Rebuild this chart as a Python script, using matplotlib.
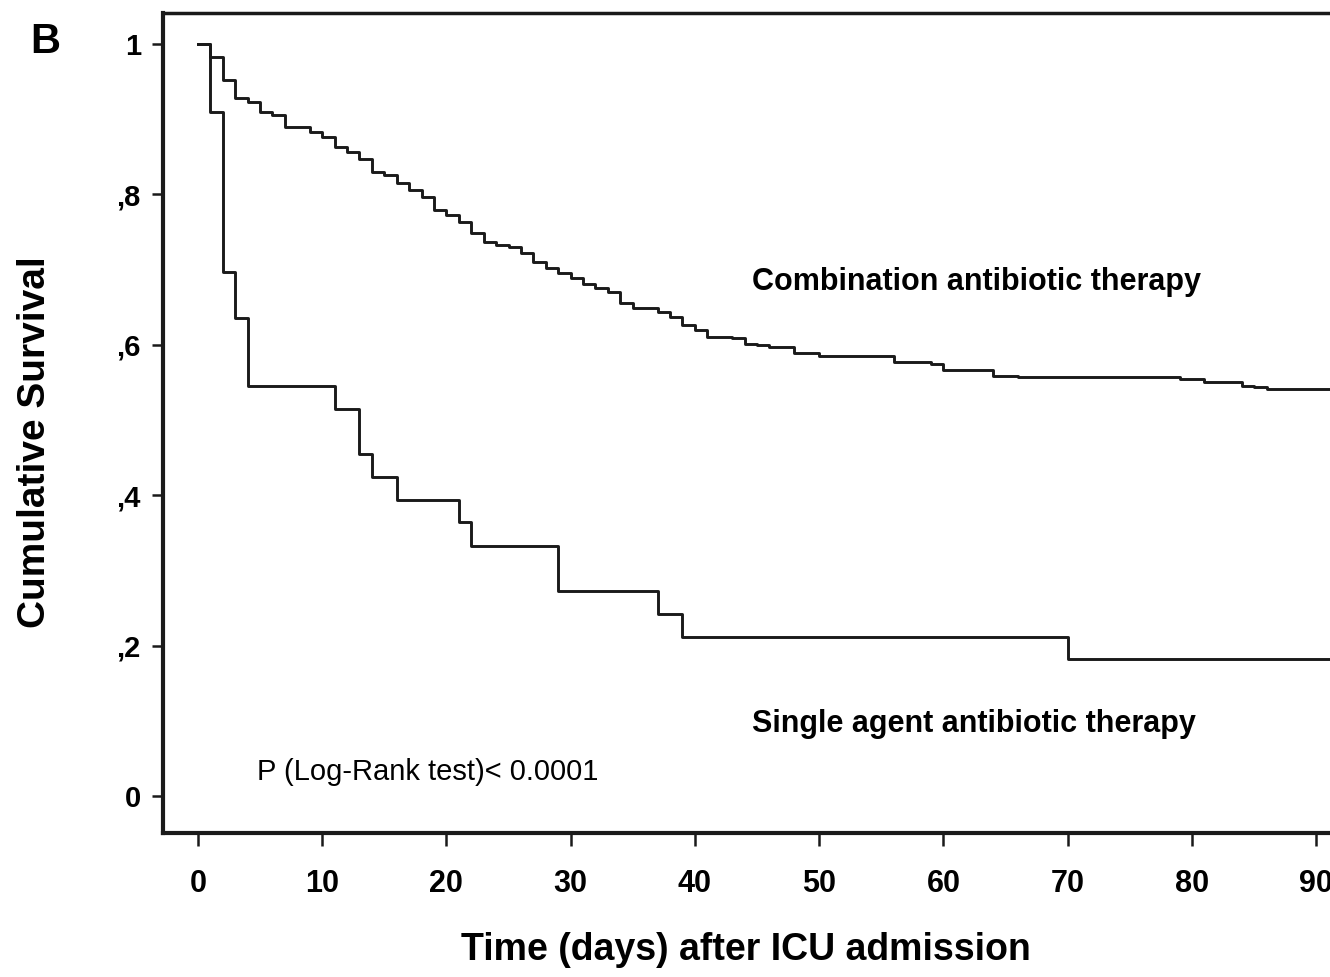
import matplotlib
matplotlib.use("Agg")
import matplotlib.pyplot as plt
from matplotlib.ticker import FixedLocator, FixedFormatter

# ---- data ----
comb_time = [0, 1, 2, 3, 4, 5, 6, 7, 9, 10, 11, 12, 13, 14, 15, 16, 17, 18, 19, 20,
             21, 22, 23, 24, 25, 26, 27, 28, 29, 30, 31, 32, 33, 34, 35, 37, 38, 39,
             40, 41, 43, 44, 45, 46, 48, 50, 56, 59, 60, 64, 66, 79, 81, 84, 85, 86, 92]
comb_surv = [1.0, 0.983, 0.952, 0.928, 0.923, 0.910, 0.906, 0.890, 0.883, 0.876,
             0.863, 0.856, 0.847, 0.830, 0.826, 0.815, 0.806, 0.797, 0.779, 0.773,
             0.763, 0.749, 0.737, 0.733, 0.730, 0.722, 0.710, 0.702, 0.695, 0.689,
             0.681, 0.676, 0.670, 0.656, 0.649, 0.644, 0.637, 0.626, 0.620, 0.610,
             0.609, 0.601, 0.600, 0.597, 0.589, 0.585, 0.577, 0.575, 0.566, 0.558,
             0.557, 0.554, 0.550, 0.545, 0.544, 0.541, 0.541]

single_time = [0, 1, 2, 3, 4, 11, 13, 14, 16, 21, 22, 29, 37, 39, 70, 92]
single_surv = [1.0, 0.909, 0.697, 0.636, 0.545, 0.515, 0.455, 0.424, 0.394, 0.364,
               0.333, 0.273, 0.242, 0.212, 0.182, 0.182]

x_ticks = [0, 10, 20, 30, 40, 50, 60, 70, 80, 90]
x_tick_labels = ["0", "10", "20", "30", "40", "50", "60", "70", "80", "90"]
y_ticks = [0, 0.2, 0.4, 0.6, 0.8, 1.0]
y_tick_labels = ["0", ",2", ",4", ",6", ",8", "1"]

FONT = "Liberation Sans"
W, H = 1330, 977
fig = plt.figure(figsize=(W / 100, H / 100), dpi=100)
ax = fig.add_axes([163 / W, (H - 833) / H, 1 - 163 / W, (833 - 13) / H])

ax.step(comb_time, comb_surv, where="post", color="#1a1a1a", lw=2.1)
ax.step(single_time, single_surv, where="post", color="#1a1a1a", lw=2.1)

ax.set_xlim(-2.8, 91.1)
ax.set_ylim(-0.049, 1.041)

ax.xaxis.set_major_locator(FixedLocator(x_ticks))
ax.xaxis.set_major_formatter(FixedFormatter(x_tick_labels))
ax.yaxis.set_major_locator(FixedLocator(y_ticks))
ax.yaxis.set_major_formatter(FixedFormatter(y_tick_labels))

ax.tick_params(axis="x", direction="out", length=9, width=1.8, pad=17,
               labelsize=22, color="#1a1a1a")
ax.tick_params(axis="y", direction="out", length=8, width=1.8, pad=8,
               labelsize=21, color="#1a1a1a")
for lab in ax.get_xticklabels() + ax.get_yticklabels():
    lab.set_fontfamily(FONT)
    lab.set_fontweight("bold")

ax.spines["right"].set_visible(False)
ax.spines["left"].set_linewidth(3.0)
ax.spines["bottom"].set_linewidth(3.0)
ax.spines["top"].set_linewidth(2.5)
for s in ax.spines.values():
    s.set_color("#1a1a1a")

ax.text(44.6, 0.684, "Combination antibiotic therapy", fontsize=22,
        fontweight="bold", family=FONT, va="center", ha="left")
ax.text(44.6, 0.096, "Single agent antibiotic therapy", fontsize=22,
        fontweight="bold", family=FONT, va="center", ha="left")
ax.text(4.8, 0.032, "P (Log-Rank test)< 0.0001", fontsize=21,
        family=FONT, va="center", ha="left")

fig.text(45 / W, 1 - 42 / H, "B", fontsize=30, fontweight="bold", family=FONT,
         ha="center", va="center")
fig.text(35 / W, 1 - 442 / H, "Cumulative Survival", fontsize=28, fontweight="bold",
         family=FONT, ha="center", va="center", rotation=90)
fig.text(746 / W, 1 - 950 / H, "Time (days) after ICU admission", fontsize=27,
         fontweight="bold", family=FONT, ha="center", va="center")

fig.savefig("out.png", dpi=100)
